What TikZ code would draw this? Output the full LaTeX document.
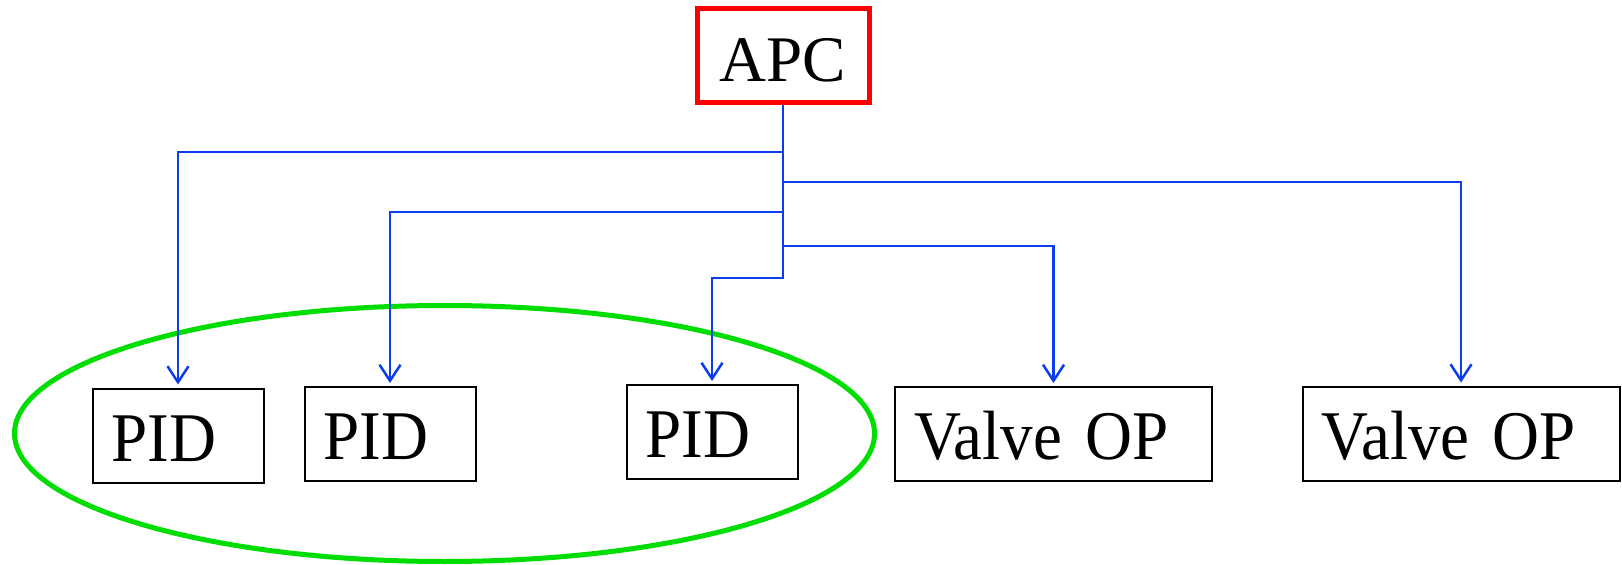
\documentclass[tikz,border=0pt]{standalone}
\usepackage{fontspec}
\setmainfont{Liberation Serif}
\newfontfamily\tallserif{Liberation Serif}[FakeStretch=0.932]
\usepackage{xcolor}
\usetikzlibrary{arrows.meta,positioning}
\definecolor{APCred}{HTML}{FF0000}
\definecolor{WIREblue}{HTML}{0A3CF0}
\definecolor{GRPgreen}{HTML}{00DD00}

\begin{document}
\begin{tikzpicture}[
    lbl/.style={text height=1.02cm,text depth=0cm},
    apcbox/.style={lbl,font=\fontsize{37}{44}\selectfont,draw=APCred,line width=0.1cm,
      minimum width=3.44cm,minimum height=1.88cm},
    unitbox/.style={lbl,font=\tallserif\fontsize{39.7}{46}\selectfont,draw,line width=0.04cm,
      minimum height=1.88cm,inner xsep=0.38cm,align=left},
    pidbox/.style={unitbox,text width=2.66cm},
    valvebox/.style={unitbox,text width=5.58cm},
    feed/.style={draw=WIREblue,line width=0.05cm,-{Straight Barb[length=0.32cm,width=0.42cm]},shorten >=0.06cm}]
  \useasboundingbox (0,0) rectangle (32.44,11.28);
  % supervisory layer
  \node[apcbox] (apc) at (15.66,10.16) {APC};
  % regulatory layer
  \node[pidbox] (pid1) at (3.56,2.57) {PID};
  \node[pidbox] (pid2) at (7.80,2.60) {PID};
  \node[pidbox] (pid3) at (14.24,2.64) {PID};
  \node[valvebox] (valve1) at (21.07,2.60) {Valve OP};
  \node[valvebox] (valve2) at (29.22,2.61) {Valve OP};
  % PID group
  \draw[GRPgreen,line width=0.1cm] (8.89,2.61) ellipse [x radius=8.6, y radius=2.56];
  % setpoints / outputs
  \draw[feed] (apc.south) -- (apc.south |- 0,5.72) -| (pid3.north);
  \foreach \lvl/\dst in {8.24/pid1,7.64/valve2,7.04/pid2,6.36/valve1}
    \draw[feed] (apc.south |- 0,\lvl) -| (\dst.north);
\end{tikzpicture}
\end{document}
